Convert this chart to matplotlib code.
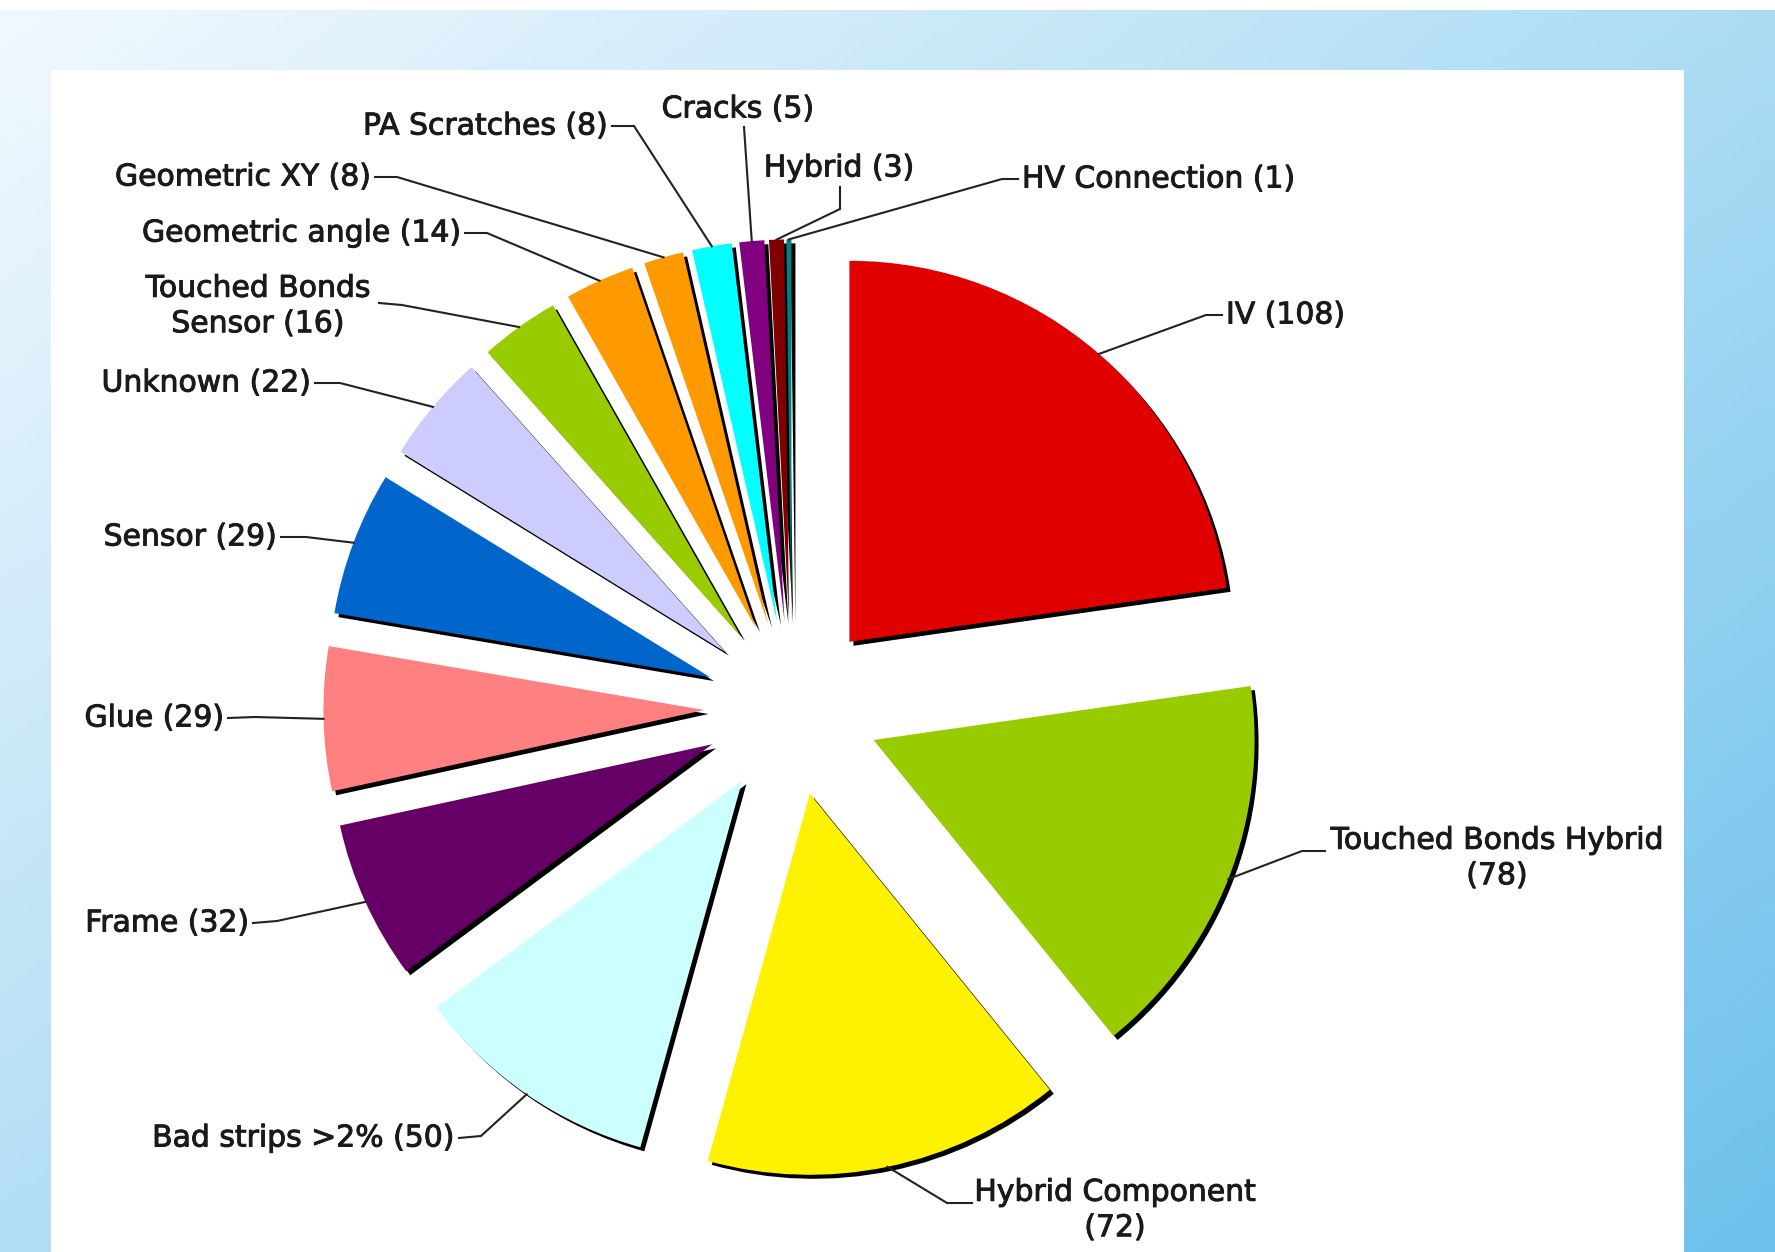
import numpy as np
import matplotlib
matplotlib.use("Agg")
import matplotlib.pyplot as plt
from matplotlib.patches import Rectangle
import matplotlib.patheffects as pe

# ---------------- data ----------------
categories = ["IV", "Touched Bonds Hybrid", "Hybrid Component", "Bad strips >2%",
              "Frame", "Glue", "Sensor", "Unknown", "Touched Bonds Sensor",
              "Geometric angle", "Geometric XY", "PA Scratches", "Cracks",
              "Hybrid", "HV Connection"]
counts = [108, 78, 72, 50, 32, 29, 29, 22, 16, 14, 8, 8, 5, 3, 1]
colors = ["#e00000", "#99cc00", "#fff200", "#ccffff", "#660066", "#ff8080",
          "#0066cc", "#ccccff", "#99cc00", "#ff9900", "#ff9900", "#00ffff",
          "#800080", "#800000", "#008080"]
# where the label text wraps onto a second line
wrap_before_count = {"Touched Bonds Hybrid", "Hybrid Component"}
wrap_inside = {"Touched Bonds Sensor": "Touched Bonds\nSensor"}

# ---------------- layout (pixels of the 1775x1252 image) ----------------
W, H = 1775, 1252
CX, CY, R = 792, 708, 381
EXPLODE = 0.23

# text_x, text_y, ha, attach_x, attach_y, elbow_x, elbow_y
label_layout = [
    (1226, 315, "left", 1222, 315, 1206, 315),     # IV
    (1497, 858, "center", 1325, 851, 1302, 851),   # TBH
    (1115, 1210, "center", 972, 1203, 947, 1203),  # HC
    (455, 1138, "right", 459, 1138, 481, 1136),    # Bad strips
    (249, 923, "right", 253, 923, 277, 921),       # Frame
    (224, 718, "right", 228, 718, 255, 717),       # Glue
    (277, 537, "right", 281, 537, 306, 537),       # Sensor
    (311, 383, "right", 315, 383, 340, 383),       # Unknown
    (258, 306, "center", 379, 303, 402, 305),      # TBS
    (461, 233, "right", 465, 233, 487, 233),       # Geo angle
    (371, 177, "right", 375, 177, 397, 177),       # Geo XY
    (608, 126, "right", 612, 126, 634, 126),       # PA
    (738, 109, "center", 744, 127, 744, 127),      # Cracks
    (839, 168, "center", 840, 187, 840, 209),      # Hybrid
    (1022, 179, "left", 1018, 179, 1002, 179),     # HV
]


def px2d(x, y):
    return (x - CX) / R, (CY - y) / R


def label_text(cat, n):
    if cat in wrap_before_count:
        return f"{cat}\n({n})"
    if cat in wrap_inside:
        return f"{wrap_inside[cat]} ({n})"
    return f"{cat} ({n})"


fig = plt.figure(figsize=(W / 100, H / 100), dpi=100)

# ---------------- background gradient ----------------
bg = fig.add_axes([0, 0, 1, 1], zorder=0)
bg.set_axis_off()
tl = np.array([0xf2, 0xf9, 0xfe]) / 255
tr = np.array([0xac, 0xdc, 0xf4]) / 255
bl = np.array([0xb3, 0xde, 0xf5]) / 255
br = np.array([0x6e, 0xc1, 0xec]) / 255
u = np.linspace(0, 1, 200)[None, :, None]
v = np.linspace(0, 1, 150)[:, None, None]
img = (1 - u) * (1 - v) * tl + u * (1 - v) * tr + (1 - u) * v * bl + u * v * br
bg.imshow(img, extent=[0, 1, 0, 1], aspect="auto", origin="upper")
bg.set_xlim(0, 1)
bg.set_ylim(0, 1)
bg.add_patch(Rectangle((0, 1 - 10 / H), 1, 10 / H, color="white", lw=0))
bg.add_patch(Rectangle((51 / W, 0), (1684 - 51) / W, 1 - 70 / H,
                       facecolor="white", edgecolor="none"))

# ---------------- pie ----------------
ax = fig.add_axes([0, 0, 1, 1], zorder=1)
ax.patch.set_alpha(0)
explode = [EXPLODE] * len(counts)
sh = 4 / R
ax.pie(counts, explode=explode, colors=["#000000"] * len(counts),
       startangle=90, counterclock=False, center=(sh, -sh),
       wedgeprops=dict(linewidth=0))
wedges, _ = ax.pie(counts, explode=explode, colors=colors,
                   startangle=90, counterclock=False,
                   wedgeprops=dict(linewidth=0))

x0, y0 = px2d(0, H)
x1, y1 = px2d(W, 0)
ax.set_xlim(x0, x1)
ax.set_ylim(y0, y1)
ax.set_aspect("auto")
ax.set_axis_off()

for w, cat, n, lay in zip(wedges, categories, counts, label_layout):
    tx, ty, ha, axp, ayp, ex, ey = lay
    mid = np.deg2rad((w.theta1 + w.theta2) / 2)
    cx_, cy_ = w.center
    px = cx_ + w.r * np.cos(mid)
    py = cy_ + w.r * np.sin(mid)
    a = px2d(axp, ayp)
    e = px2d(ex, ey)
    ax.plot([a[0], e[0], px], [a[1], e[1], py], color="#222222", lw=1.5,
            solid_joinstyle="miter", zorder=3)
    t = px2d(tx, ty)
    ax.text(t[0], t[1], label_text(cat, n), ha=ha, va="center",
            multialignment="center", fontsize=21.5, color="#1a1a1a",
            family="DejaVu Sans", linespacing=1.28, zorder=4,
            path_effects=[pe.withStroke(linewidth=0.7, foreground="#1a1a1a")])

fig.savefig("out.png", dpi=100)
